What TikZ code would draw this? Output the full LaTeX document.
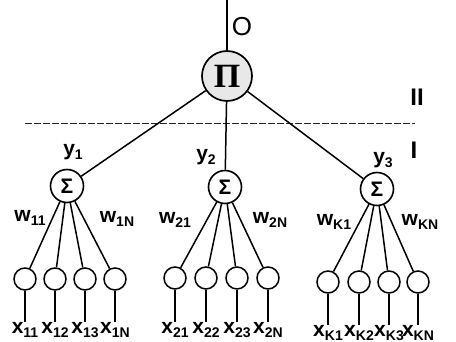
\documentclass[tikz,border=0pt]{standalone}
\usepackage{fontspec}
\setmainfont{Liberation Sans}
\newfontfamily\serifb{Liberation Serif}
\newcommand\lbl[2]{#1\raisebox{-0.35ex}{\fontsize{14}{14}\selectfont #2}}
\begin{document}
\begin{tikzpicture}[x=1pt,y=-1pt,
  conn/.style={line width=1.5pt},
  prodnode/.style={circle, draw, line width=1.7pt, minimum size=50pt, inner sep=0pt, fill=gray!18},
  sumnode/.style={circle, draw, line width=1.6pt, minimum size=33pt, inner sep=0pt, fill=white},
  innode/.style={circle, draw, line width=1.5pt, minimum size=22pt, inner sep=0pt, fill=white},
  lab/.style={font=\fontsize{21}{21}\bfseries\selectfont, inner sep=0pt},
  layer/.style={font=\fontsize{24}{24}\bfseries\selectfont, inner sep=0pt},
  sep/.style={line width=1pt, dash pattern=on 7pt off 2pt, black!85}]
\useasboundingbox (0,0) rectangle (456,342);
% separator
\coordinate (dl) at (25,124);
\coordinate (dr) at (415,124);
\draw[sep] (dl) -- (dr);
% layer labels
\node[font=\fontsize{26}{26}\selectfont, inner sep=0pt] (O) at (242,27) {O};
\node[layer] (L2) at (417,97) {II};
\node[layer] (L1) at (414,150) {I};
% nodes
\coordinate (top) at (227,0);
\node[prodnode] (P) at (227,76) {\serifb\bfseries\fontsize{34}{34}\selectfont Π};
\node[sumnode] (S1) at (67,186) {\fontsize{21}{21}\bfseries\selectfont Σ};
\node[sumnode] (S2) at (225,187) {\fontsize{21}{21}\bfseries\selectfont Σ};
\node[sumnode] (S3) at (377,189) {\fontsize{21}{21}\bfseries\selectfont Σ};
\draw[conn] (top) -- (P);
\draw[conn] (P) -- (S1);
\draw[conn] (P) -- (S2);
\draw[conn] (P) -- (S3);
\node[lab] (y1) at (73,152) {\lbl{y}{1}};
\node[lab] (y2) at (206,157) {\lbl{y}{2}};
\node[lab] (y3) at (383,160) {\lbl{y}{3}};
% inputs group 1
\foreach \i/\x/\s in {1/25/11,2/55/12,3/85/13,4/115/1N}{
  \node[innode] (a\i) at (\x,279) {};
  \node[lab] (la\i) at (\x,330) {\lbl{x}{\s}};
  \draw[conn] (S1) -- (a\i);
  \draw[conn] (a\i) -- (la\i.north);
}
% inputs group 2
\foreach \i/\x/\s in {1/175/21,2/206/22,3/237/23,4/268/2N}{
  \node[innode] (b\i) at (\x,278) {};
  \node[lab] (lb\i) at (\x,330) {\lbl{x}{\s}};
  \draw[conn] (S2) -- (b\i);
  \draw[conn] (b\i) -- (lb\i.north);
}
% inputs group 3
\foreach \i/\x/\s in {1/328/K1,2/359/K2,3/389/K3,4/418/KN}{
  \node[innode] (c\i) at (\x,282) {};
  \node[lab] (lc\i) at (\x,333) {\lbl{x}{\s}};
  \draw[conn] (S3) -- (c\i);
  \draw[conn] (c\i) -- (lc\i.north);
}
% weights
\node[lab] (w11) at (30,218) {\lbl{w}{11}};
\node[lab] (w1N) at (117,219) {\lbl{w}{1N}};
\node[lab] (w21) at (175,220) {\lbl{w}{21}};
\node[lab] (w2N) at (270,220) {\lbl{w}{2N}};
\node[lab] (wK1) at (334,222) {\lbl{w}{K1}};
\node[lab] (wKN) at (420,222) {\lbl{w}{KN}};
\end{tikzpicture}
\end{document}
